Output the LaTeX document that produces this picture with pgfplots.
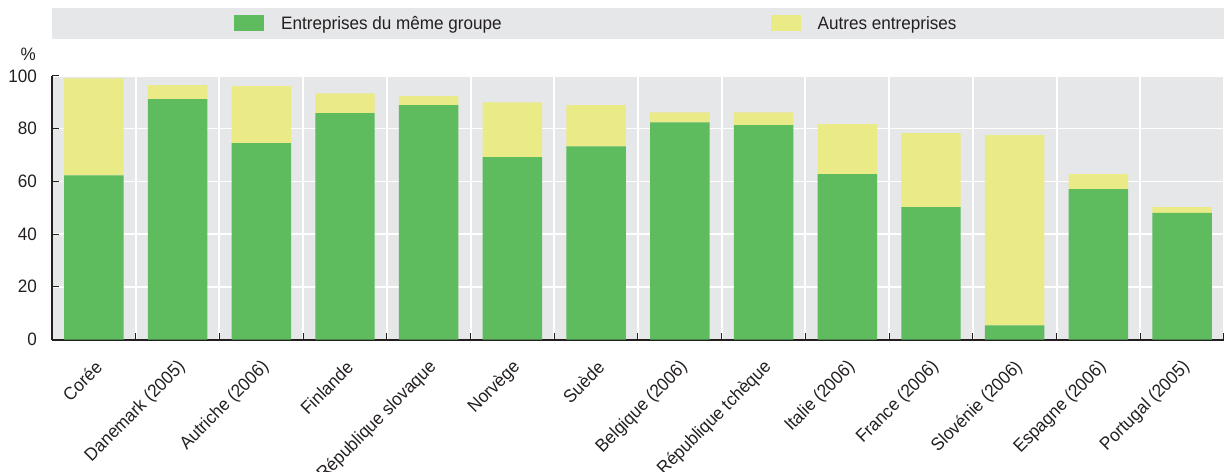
\documentclass[border=0pt]{standalone}
\usepackage{fontspec}
\setmainfont{Liberation Sans}[FakeStretch=0.95]
\usepackage{pgfplots}
\pgfplotsset{compat=1.18}
\definecolor{groupgreen}{HTML}{5EBB5E}
\definecolor{otheryellow}{HTML}{EAEA86}
\definecolor{panelgray}{HTML}{E6E7E8}
\definecolor{inkgray}{HTML}{231F20}
\newcommand{\chartfont}{\fontsize{18bp}{21bp}\selectfont}

\begin{document}
\begin{tikzpicture}
% legend band
\fill[panelgray] (0bp,300.8bp) rectangle (1172bp,331.5bp);
\begin{axis}[
    at={(0bp,0bp)}, anchor=south west,
    scale only axis, width=1172bp, height=263.6bp,
    ybar stacked, bar width=0.71,
    xmin=-0.5, xmax=13.5, ymin=0, ymax=100,
    axis x line*=bottom, axis y line*=left,
    axis line style={inkgray, line width=1.5bp, -},
    x axis line style={line width=2bp},
    axis background/.style={fill=panelgray},
    xtick={0,...,13},
    xticklabels={Corée, Danemark (2005), Autriche (2006), Finlande,
        République slovaque, Norvège, Suède, Belgique (2006),
        République tchèque, Italie (2006), France (2006),
        Slovénie (2006), Espagne (2006), Portugal (2005)},
    major x tick style={draw=none},
    minor xtick={-0.5,0.5,...,13.5},
    minor x tick style={inkgray, line width=1bp},
    minor tick length=7bp,
    xminorgrids, minor x grid style={white, line width=2bp},
    ytick={0,20,...,100},
    ymajorgrids, major y grid style={white, line width=1.5bp},
    major tick length=7bp,
    y tick style={inkgray, line width=1bp},
    tick align=inside,
    /pgf/number format/assume math mode=true,
    yticklabel style={font=\chartfont, text=inkgray, anchor=east, inner sep=0pt, xshift=-15bp},
    xticklabel style={font=\chartfont, text=inkgray, inner sep=0pt, xshift=5bp, yshift=-25bp, rotate=45, anchor=east},
    ylabel={\%},
    every axis y label/.style={at={(rel axis cs:0,1)}, anchor=south east, inner sep=0pt,
        xshift=-16bp, yshift=15bp, font=\chartfont, text=inkgray},
    legend columns=2,
    legend image code/.code={\fill[#1] (0bp,-8bp) rectangle (30bp,8bp);},
    legend style={at={(rel axis cs:0,1)}, anchor=west, xshift=182bp, yshift=52.6bp,
        draw=none, fill=none, inner sep=0pt, font=\chartfont, text=inkgray,
        nodes={inner sep=0pt, anchor=west},
        /tikz/every odd column/.style={column sep=17bp},
        /tikz/every even column/.style={column sep=269bp}},
]
\addplot[fill=groupgreen, draw=none] coordinates {
    (0,62.3) (1,91.2) (2,74.5) (3,85.9) (4,88.9) (5,69.2) (6,73.3)
    (7,82.4) (8,81.3) (9,62.7) (10,50.2) (11,5.4) (12,57.0) (13,48.0)
};
\addplot[fill=otheryellow, draw=none] coordinates {
    (0,36.8) (1,5.3) (2,21.6) (3,7.5) (4,3.4) (5,20.8) (6,15.6)
    (7,3.8) (8,4.9) (9,19.0) (10,28.1) (11,72.1) (12,5.7) (13,2.2)
};
\legend{Entreprises du même groupe, Autres entreprises}
\end{axis}
\pgfresetboundingbox
\path[use as bounding box] (-52bp,-132.5bp) rectangle (1176bp,339.5bp);
\end{tikzpicture}
\end{document}
